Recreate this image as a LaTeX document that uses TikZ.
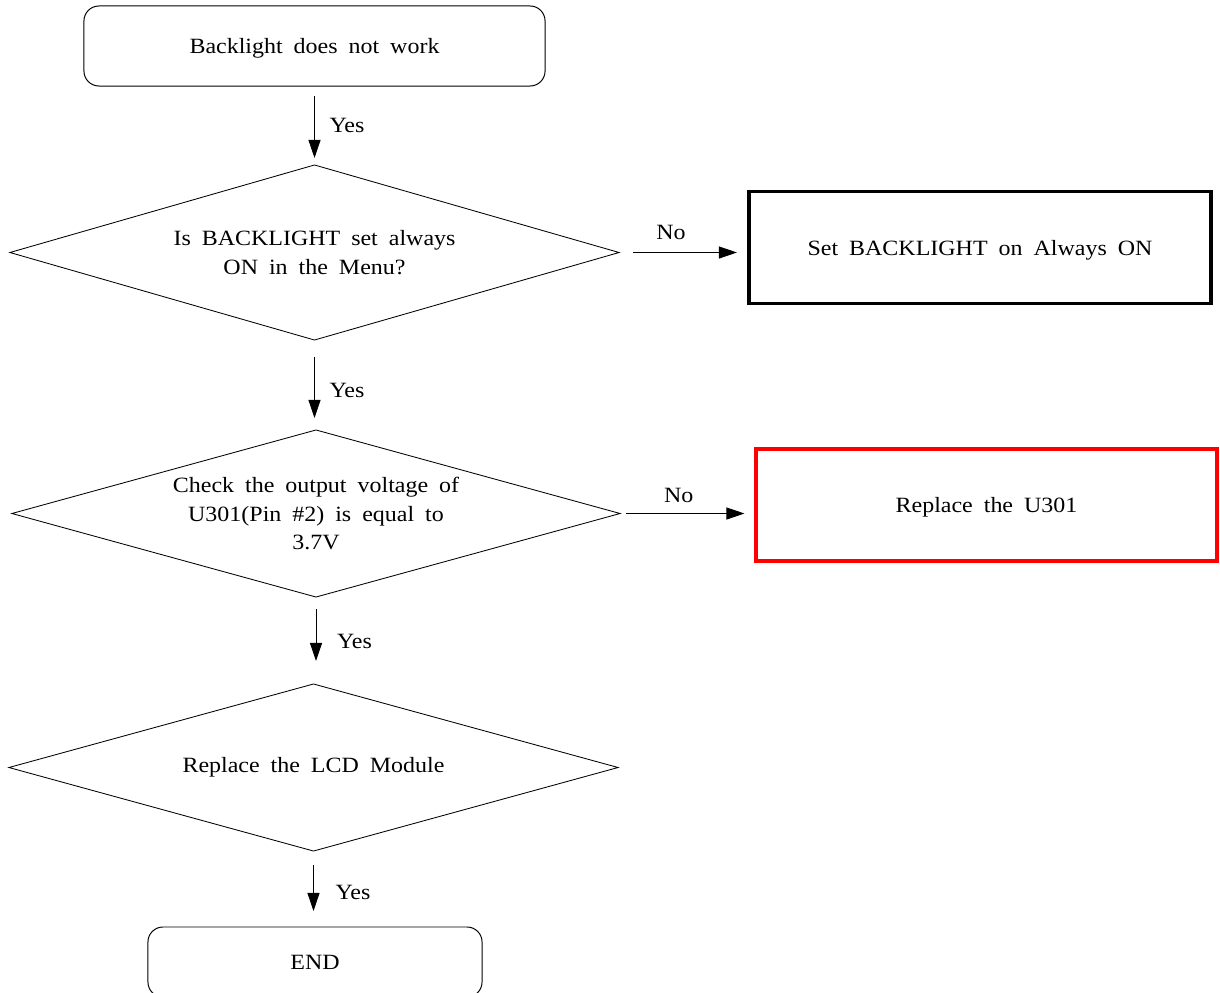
\documentclass[tikz,border=0pt]{standalone}
\usepackage{fontspec}
\setmainfont[FakeStretch=1.1]{Liberation Serif}
\usetikzlibrary{shapes.geometric,arrows.meta}
\newcommand\flownodefont{\fontsize{15.5}{20.6}\selectfont\spaceskip=7.8pt plus 1pt\relax}
\begin{document}
\begin{tikzpicture}[x=0.025cm,y=-0.025cm,
  every node/.style={font=\flownodefont, inner sep=0pt, outer sep=0pt},
  roundbox/.style={draw, line width=0.7pt, rounded corners=0.375cm, text depth=0pt},
  decision/.style={diamond, draw, line width=0.6pt, align=center},
  plainbox/.style={draw, line width=2.5pt, text depth=0pt},
  redbox/.style={draw=red, line width=2.8pt, text depth=0pt},
  flow/.style={-{Triangle[length=0.45cm,width=0.3cm]}, line width=0.6pt},
  lbl/.style={}]
\useasboundingbox (0,0) rectangle (1220,992);
\clip (0,0) rectangle (1220,992);

\node[roundbox, minimum width=11.525cm, minimum height=2cm] (start) at (314.5,46) {Backlight does not work};
\node[decision, shape aspect=3.48, minimum width=15.225cm, minimum height=4.375cm] (d1) at (314.5,252.5) {Is BACKLIGHT set always\\ON in the Menu?};
\node[plainbox, minimum width=11.55cm, minimum height=2.8cm] (b1) at (980,247.5) {Set BACKLIGHT on Always ON};
\node[decision, shape aspect=3.64, minimum width=15.2cm, minimum height=4.175cm] (d2) at (316,513.5) {Check the output voltage of\\U301(Pin \#2) is equal to\\3.7V};
\node[redbox, minimum width=11.5cm, minimum height=2.8cm] (b2) at (986.5,505) {Replace the U301};
\node[decision, shape aspect=3.64, minimum width=15.225cm, minimum height=4.175cm] (d3) at (313.5,767.5) {Replace the LCD Module};
\node[roundbox, minimum width=8.35cm, minimum height=1.75cm] (end) at (315,962) {END};

\draw[flow, shorten <=0.25cm, shorten >=0.175cm] (start.south) -- node[lbl, pos=0.5, anchor=west, xshift=0.375cm] (y1) {Yes} (d1.north);
\draw[flow, shorten <=0.425cm, shorten >=0.3cm] (d1.south) -- node[lbl, pos=0.56, anchor=west, xshift=0.375cm] (y2) {Yes} (d1.south |- d2.north);
\draw[flow, shorten <=0.3cm, shorten >=0.575cm] (d2.south) -- node[lbl, pos=0.506, anchor=west, xshift=0.525cm] (y3) {Yes} (d2.south |- d3.north);
\draw[flow, shorten <=0.35cm, shorten >=0.4cm] (d3.south) -- node[lbl, pos=0.55, anchor=west, xshift=0.55cm] (y4) {Yes} (d3.south |- end.north);

\draw[flow, shorten <=0.35cm, shorten >=0.3cm] (d1.east) -- node[lbl, pos=0.4, yshift=0.5cm] (n1) {No} (d1.east -| b1.west);
\draw[flow, shorten <=0.15cm, shorten >=0.3cm] (d2.east) -- node[lbl, pos=0.43, yshift=0.45cm] (n2) {No} (d2.east -| b2.west);
\end{tikzpicture}
\end{document}
